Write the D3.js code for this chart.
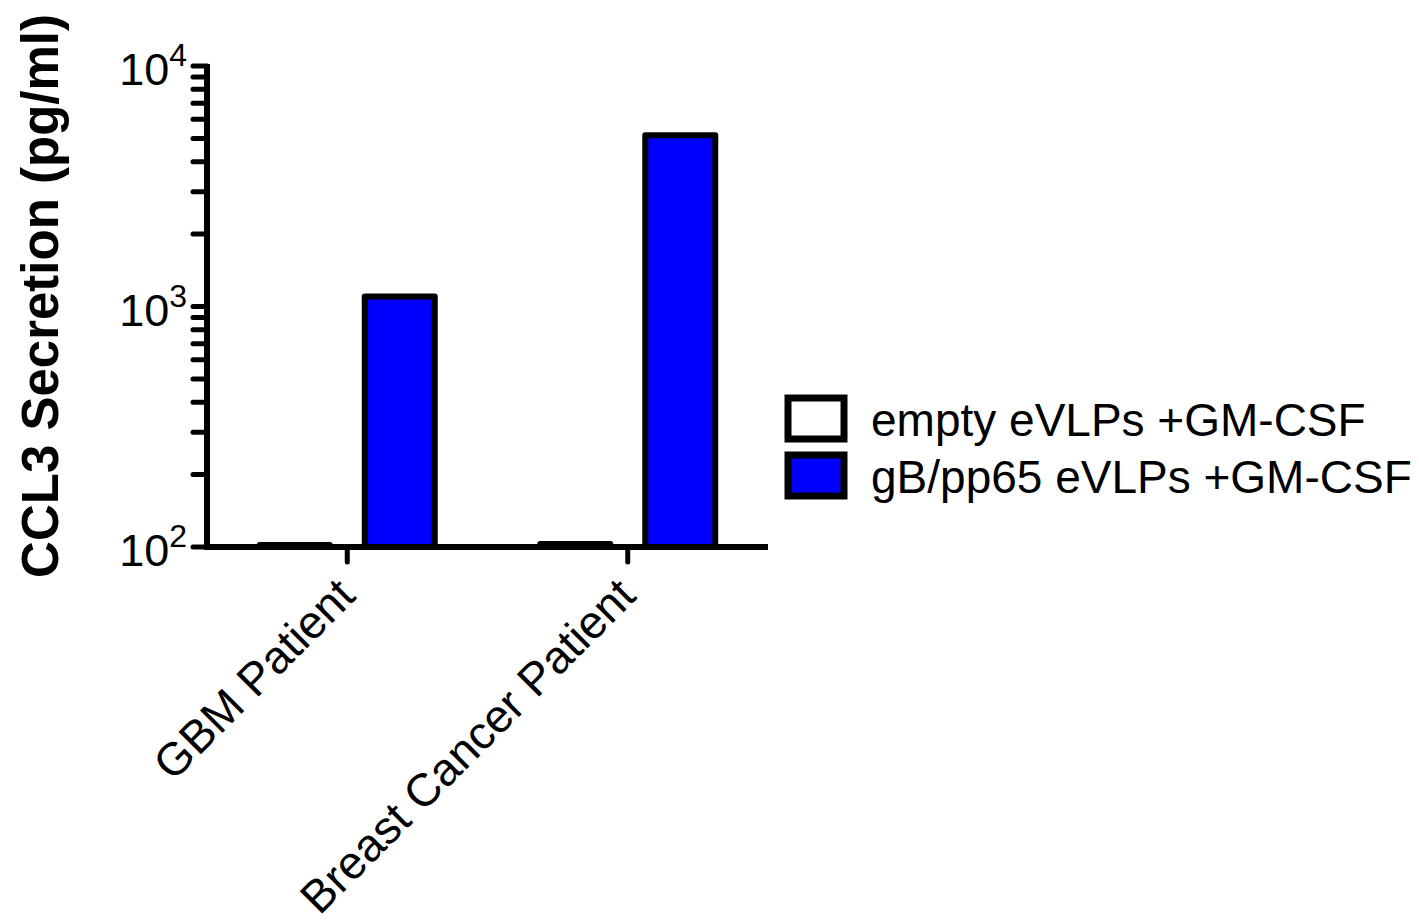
<!DOCTYPE html>
<html>
<head>
<meta charset="utf-8">
<script src="https://cdn.jsdelivr.net/npm/d3@7"></script>
<style>
  body { margin: 0; background: #fff; }
  svg { display: block; font-family: "Liberation Sans", Arial, sans-serif; }
</style>
</head>
<body>
<div id="chart"></div>
<script>
const categories = ['GBM Patient', 'Breast Cancer Patient'];
const series = ['empty eVLPs +GM-CSF', 'gB/pp65 eVLPs +GM-CSF'];
const seriesColors = ['#ffffff', '#0000ff'];
const emptyValues = [102, 103];
const gbValues = [1100, 5150];
const yTicks = [100, 1000, 10000];

const w = 1419;
const h = 924;

const svg = d3.select('#chart')
    .append('svg')
    .attr('width', w)
    .attr('height', h);

const x0 = d3.scaleBand().domain(categories).range([207, 768]);
const x1 = d3.scaleBand().domain(series).range([-87.5, 87.5]).paddingInner(1 / 3);
const y = d3.scaleLog().domain([100, 10000]).range([547, 66]);

const rows = [];
categories.forEach((c, i) => {
    rows.push({ cat: c, ser: series[0], value: emptyValues[i], color: seriesColors[0] });
    rows.push({ cat: c, ser: series[1], value: gbValues[i], color: seriesColors[1] });
});

// bars
svg.append('g')
    .selectAll('rect')
    .data(rows)
    .enter()
    .append('rect')
    .attr('x', d => x0(d.cat) + x0.bandwidth() / 2 + x1(d.ser))
    .attr('y', d => y(d.value))
    .attr('width', x1.bandwidth())
    .attr('height', d => y(100) - y(d.value))
    .attr('fill', d => d.color)
    .attr('stroke', '#000')
    .attr('stroke-width', 6)
    .attr('stroke-linejoin', 'round');

// minor + major y ticks
const minor = [];
for (let k = 100; k < 10000; k *= 10) {
    for (let m = 1; m < 10; m++) minor.push(k * m);
}
minor.push(10000);

svg.append('g')
    .selectAll('line')
    .data(minor)
    .enter()
    .append('line')
    .attr('x1', 193)
    .attr('x2', 207)
    .attr('y1', d => y(d))
    .attr('y2', d => y(d))
    .attr('stroke', '#000')
    .attr('stroke-width', 5)
    .attr('stroke-linecap', 'round');

// axis lines
svg.append('line')
    .attr('x1', 207).attr('x2', 207)
    .attr('y1', y(10000) - 2).attr('y2', y(100))
    .attr('stroke', '#000').attr('stroke-width', 6);

svg.append('line')
    .attr('x1', 204).attr('x2', 768)
    .attr('y1', y(100)).attr('y2', y(100))
    .attr('stroke', '#000').attr('stroke-width', 6);

// x ticks
svg.append('g')
    .selectAll('line')
    .data(categories)
    .enter()
    .append('line')
    .attr('x1', d => x0(d) + x0.bandwidth() / 2)
    .attr('x2', d => x0(d) + x0.bandwidth() / 2)
    .attr('y1', y(100))
    .attr('y2', y(100) + 15)
    .attr('stroke', '#000')
    .attr('stroke-width', 5)
    .attr('stroke-linecap', 'round');

// y tick labels
const yLab = svg.append('g')
    .selectAll('text')
    .data(yTicks)
    .enter()
    .append('text')
    .attr('x', 187)
    .attr('y', d => y(d) + 19)
    .attr('text-anchor', 'end')
    .attr('font-size', 45);
yLab.append('tspan').text('10');
yLab.append('tspan')
    .attr('dy', -19)
    .attr('font-size', 32)
    .text(d => Math.round(Math.log10(d)));

// x tick labels
svg.append('g')
    .selectAll('text')
    .data(categories)
    .enter()
    .append('text')
    .attr('transform', d => `translate(${x0(d) + x0.bandwidth() / 2 + 10},598) rotate(-45)`)
    .attr('text-anchor', 'end')
    .attr('font-size', 46)
    .text(d => d);

// y title
svg.append('text')
    .attr('transform', 'translate(58,296) rotate(-90)')
    .attr('text-anchor', 'middle')
    .attr('font-size', 51)
    .attr('font-weight', 'bold')
    .text('CCL3 Secretion (pg/ml)');

// legend
const legend = svg.append('g')
    .selectAll('g')
    .data(series)
    .enter()
    .append('g')
    .attr('transform', (d, i) => `translate(788,${398 + i * 57})`);

legend.append('rect')
    .attr('width', 56)
    .attr('height', 41)
    .attr('fill', (d, i) => seriesColors[i])
    .attr('stroke', '#000')
    .attr('stroke-width', 7);

legend.append('text')
    .attr('x', 83)
    .attr('y', 38)
    .attr('font-size', 46)
    .text(d => d);
</script>
</body>
</html>
